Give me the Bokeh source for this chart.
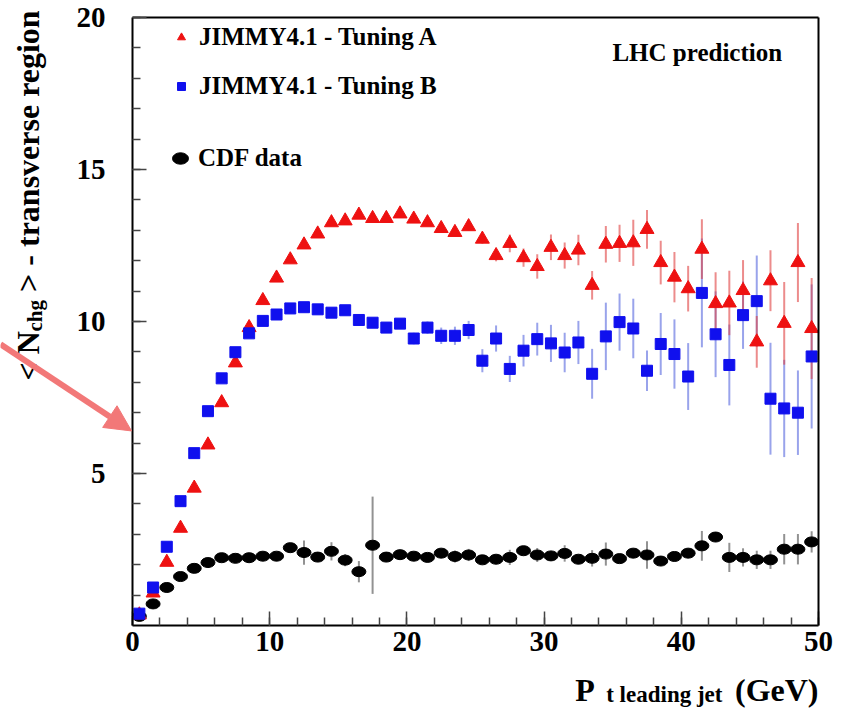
import numpy as np
from bokeh.plotting import figure
from bokeh.models import (FixedTicker, Label, Arrow, NormalHead, Legend,
                          LegendItem, ColumnDataSource, LinearAxis)
from bokeh.embed import file_html
from bokeh.resources import INLINE

# ---------------- data ----------------
pt_bins = [0.5 + i for i in range(50)]

tuning_a = [0.35, 1.07, 2.08, 3.20, 4.52, 5.94, 7.33, 8.64, 9.80, 10.69,
            11.43, 12.03, 12.52, 12.88, 13.25, 13.31, 13.50, 13.39, 13.39, 13.54,
            13.37, 13.25, 13.06, 12.93, 13.12, 12.71, 12.17, 12.57, 12.10, 11.81,
            12.44, 12.17, 12.35, 11.19, 12.54, 12.57, 12.59, 13.03, 11.94, 11.46,
            11.08, 12.38, 10.59, 10.61, 11.02, 9.33, 11.34, 9.94, 11.94, 9.77]
tuning_a_err = [0.05] * 10 + [0.08] * 10 + [
            0.10, 0.10, 0.12, 0.12, 0.13, 0.15, 0.19, 0.29, 0.30, 0.40,
            0.42, 0.43, 0.50, 0.47, 0.60, 0.61, 0.76, 0.64, 0.72, 0.83,
            0.75, 0.98, 1.03, 1.06, 1.00, 0.85, 1.00, 1.36, 1.30, 1.66]

tuning_b = [0.39, 1.25, 2.59, 4.09, 5.67, 7.05, 8.13, 8.99, 9.61, 10.02,
            10.23, 10.43, 10.47, 10.40, 10.29, 10.37, 10.05, 9.96, 9.80, 9.93,
            9.44, 9.80, 9.53, 9.53, 9.72, 8.71, 9.44, 8.44, 9.04, 9.42,
            9.28, 8.98, 9.31, 8.28, 9.51, 9.98, 9.77, 8.38, 9.26, 8.93,
            8.19, 10.94, 9.58, 8.57, 10.21, 10.67, 7.46, 7.14, 7.00, 8.85]
tuning_b_err = [0.05] * 10 + [0.08] * 9 + [0.10] + [
            0.19, 0.20, 0.27, 0.30, 0.30, 0.38, 0.43, 0.43, 0.52, 0.54,
            0.61, 0.65, 0.71, 0.82, 1.11, 0.94, 0.98, 0.67, 1.02, 1.14,
            1.10, 1.79, 1.41, 1.33, 1.11, 1.50, 1.84, 1.60, 1.39, 2.37]

cdf = [0.30, 0.71, 1.25, 1.61, 1.88, 2.07, 2.23, 2.21, 2.23, 2.28,
       2.28, 2.56, 2.40, 2.25, 2.44, 2.15, 1.77, 2.64, 2.25, 2.33,
       2.28, 2.24, 2.38, 2.27, 2.32, 2.16, 2.18, 2.24, 2.46, 2.32,
       2.29, 2.37, 2.18, 2.21, 2.35, 2.20, 2.38, 2.32, 2.12, 2.27,
       2.38, 2.62, 2.91, 2.24, 2.24, 2.16, 2.16, 2.51, 2.51, 2.75]
cdf_err = [0.05, 0.08, 0.08, 0.10, 0.10, 0.10, 0.10, 0.10, 0.15, 0.15,
           0.12, 0.12, 0.40, 0.15, 0.30, 0.20, 0.35, 1.60, 0.12, 0.12,
           0.12, 0.12, 0.12, 0.20, 0.20, 0.12, 0.12, 0.25, 0.12, 0.23,
           0.15, 0.27, 0.15, 0.27, 0.38, 0.15, 0.15, 0.45, 0.15, 0.15,
           0.15, 0.49, 0.15, 0.48, 0.30, 0.30, 0.30, 0.50, 0.50, 0.35]

x_major = [0, 10, 20, 30, 40, 50]
x_minor = list(range(0, 51, 2))
y_major = [5, 10, 15, 20]
y_minor = list(range(1, 21))

RED = "#ee1111"
BLUE = "#1010ee"
FONT = "Liberation Serif"

# visible plotting box (0..50, 0..20) mapped to pixels 132..818, 625..17
W, H = 841, 709
X0PX, X1PX, Y0PX, Y1PX = 132, 818, 625, 17
sx = (X1PX - X0PX) / 50.0
sy = (Y0PX - Y1PX) / 20.0
x_range = (-X0PX / sx, 50 + (W - X1PX) / sx)
y_range = (-(H - Y0PX) / sy, 20 + Y1PX / sy)


def src(vals, errs):
    v = np.array(vals)
    e = np.array(errs)
    return ColumnDataSource(dict(x=pt_bins, y=v, lo=v - e, hi=v + e))


src_a = src(tuning_a, tuning_a_err)
src_b = src(tuning_b, tuning_b_err)
src_c = src(cdf, cdf_err)

p = figure(width=W, height=H, x_range=x_range, y_range=y_range,
           output_backend="svg", toolbar_location=None, title=None,
           x_axis_location=None, y_axis_location=None,
           min_border=0)
p.grid.visible = False
p.outline_line_color = None
p.background_fill_color = "white"
p.border_fill_color = "white"

xaxis = LinearAxis(fixed_location=0, bounds=(0, 50),
                   ticker=FixedTicker(ticks=x_major, minor_ticks=x_minor))
yaxis = LinearAxis(fixed_location=0, bounds=(0, 20),
                   ticker=FixedTicker(ticks=y_major, minor_ticks=y_minor))
topaxis = LinearAxis(fixed_location=20, bounds=(0, 50),
                     ticker=FixedTicker(ticks=[]), major_label_text_font_size="0px")
rightaxis = LinearAxis(fixed_location=50, bounds=(0, 20),
                       ticker=FixedTicker(ticks=[]), major_label_text_font_size="0px")

for ax in (xaxis, yaxis, topaxis, rightaxis):
    ax.axis_line_width = 2
    ax.axis_line_color = "black"
    ax.major_tick_in = 14
    ax.major_tick_out = 0
    ax.minor_tick_in = 8
    ax.minor_tick_out = 0
    ax.major_tick_line_color = "#444444"
    ax.minor_tick_line_color = "#444444"
    ax.major_tick_line_width = 1.5
    ax.minor_tick_line_width = 1.5
for ax in (xaxis, yaxis):
    ax.major_label_text_font = FONT
    ax.major_label_text_font_style = "bold"
    ax.major_label_text_font_size = "29px"
    ax.major_label_text_color = "black"
xaxis.major_label_standoff = 6
yaxis.major_label_standoff = 27

p.add_layout(xaxis, "below")
p.add_layout(yaxis, "left")
p.add_layout(topaxis, "above")
p.add_layout(rightaxis, "right")

# error bars
p.segment(x0="x", y0="lo", x1="x", y1="hi", source=src_c,
          line_color="#777777", line_width=2, line_alpha=0.8)
p.segment(x0="x", y0="lo", x1="x", y1="hi", source=src_b,
          line_color="#5566dd", line_width=2, line_alpha=0.6)
p.segment(x0="x", y0="lo", x1="x", y1="hi", source=src_a,
          line_color="#e04040", line_width=2, line_alpha=0.6)

# markers
r_c = p.ellipse(x="x", y="y", width=14, height=10, width_units="screen",
                height_units="screen", source=src_c,
                fill_color="black", line_color="black")
r_a = p.scatter(x="x", y="y", source=src_a, marker="triangle", size=14,
                fill_color=RED, line_color=RED)
r_b = p.scatter(x="x", y="y", source=src_b, marker="square", size=11,
                fill_color=BLUE, line_color=BLUE)

leg_kw = dict(label_text_font=FONT, label_text_font_style="bold",
              label_text_font_size="25px", label_text_color="black",
              label_standoff=8, glyph_width=20, glyph_height=30,
              label_height=30, spacing=19, padding=0, margin=0,
              border_line_alpha=0, background_fill_alpha=0)
leg1 = Legend(items=[LegendItem(label="JIMMY4.1 - Tuning A", renderers=[r_a]),
                     LegendItem(label="JIMMY4.1 - Tuning B", renderers=[r_b])],
              location=(171, 608), **leg_kw)
leg2 = Legend(items=[LegendItem(label="CDF data", renderers=[r_c])],
              location=(170, 536), **leg_kw)
p.add_layout(leg1)
p.add_layout(leg2)

p.add_layout(Label(x=34.98, y=18.85, text="LHC prediction", text_font=FONT,
                   text_font_style="bold", text_font_size="25px",
                   text_baseline="middle", text_color="black"))

# y-axis title (with subscript)
ylab = dict(angle=np.pi / 2, text_font=FONT, text_font_style="bold",
            text_align="left", text_baseline="alphabetic", text_color="black")
p.add_layout(Label(x=-7.65, y=8.06, text="< N", text_font_size="32px", **ylab))
p.add_layout(Label(x=-7.10, y=9.67, text="chg", text_font_size="21px", **ylab))
p.add_layout(Label(x=-7.65, y=10.71, text="\u00a0> - transverse region",
                   text_font_size="32px", **ylab))

# x-axis title (with subscript)
xlab = dict(text_font=FONT, text_font_style="bold", text_align="right",
            text_baseline="alphabetic", text_color="black")
p.add_layout(Label(x=50.0, y=-2.12, text="(GeV)", text_font_size="32px", **xlab))
p.add_layout(Label(x=43.0, y=-2.28, text="t leading jet", text_font_size="23px", **xlab))
p.add_layout(Label(x=33.7, y=-2.12, text="P", text_font_size="32px", **xlab))

# pink annotation arrow
ARROW = "#f27878"
p.add_layout(Arrow(end=NormalHead(size=26, fill_color=ARROW, line_color=ARROW),
                   x_start=-9.62, y_start=9.25, x_end=-0.07, y_end=6.40,
                   line_color=ARROW, line_width=6))

open("out.html", "w").write(file_html(p, INLINE))
